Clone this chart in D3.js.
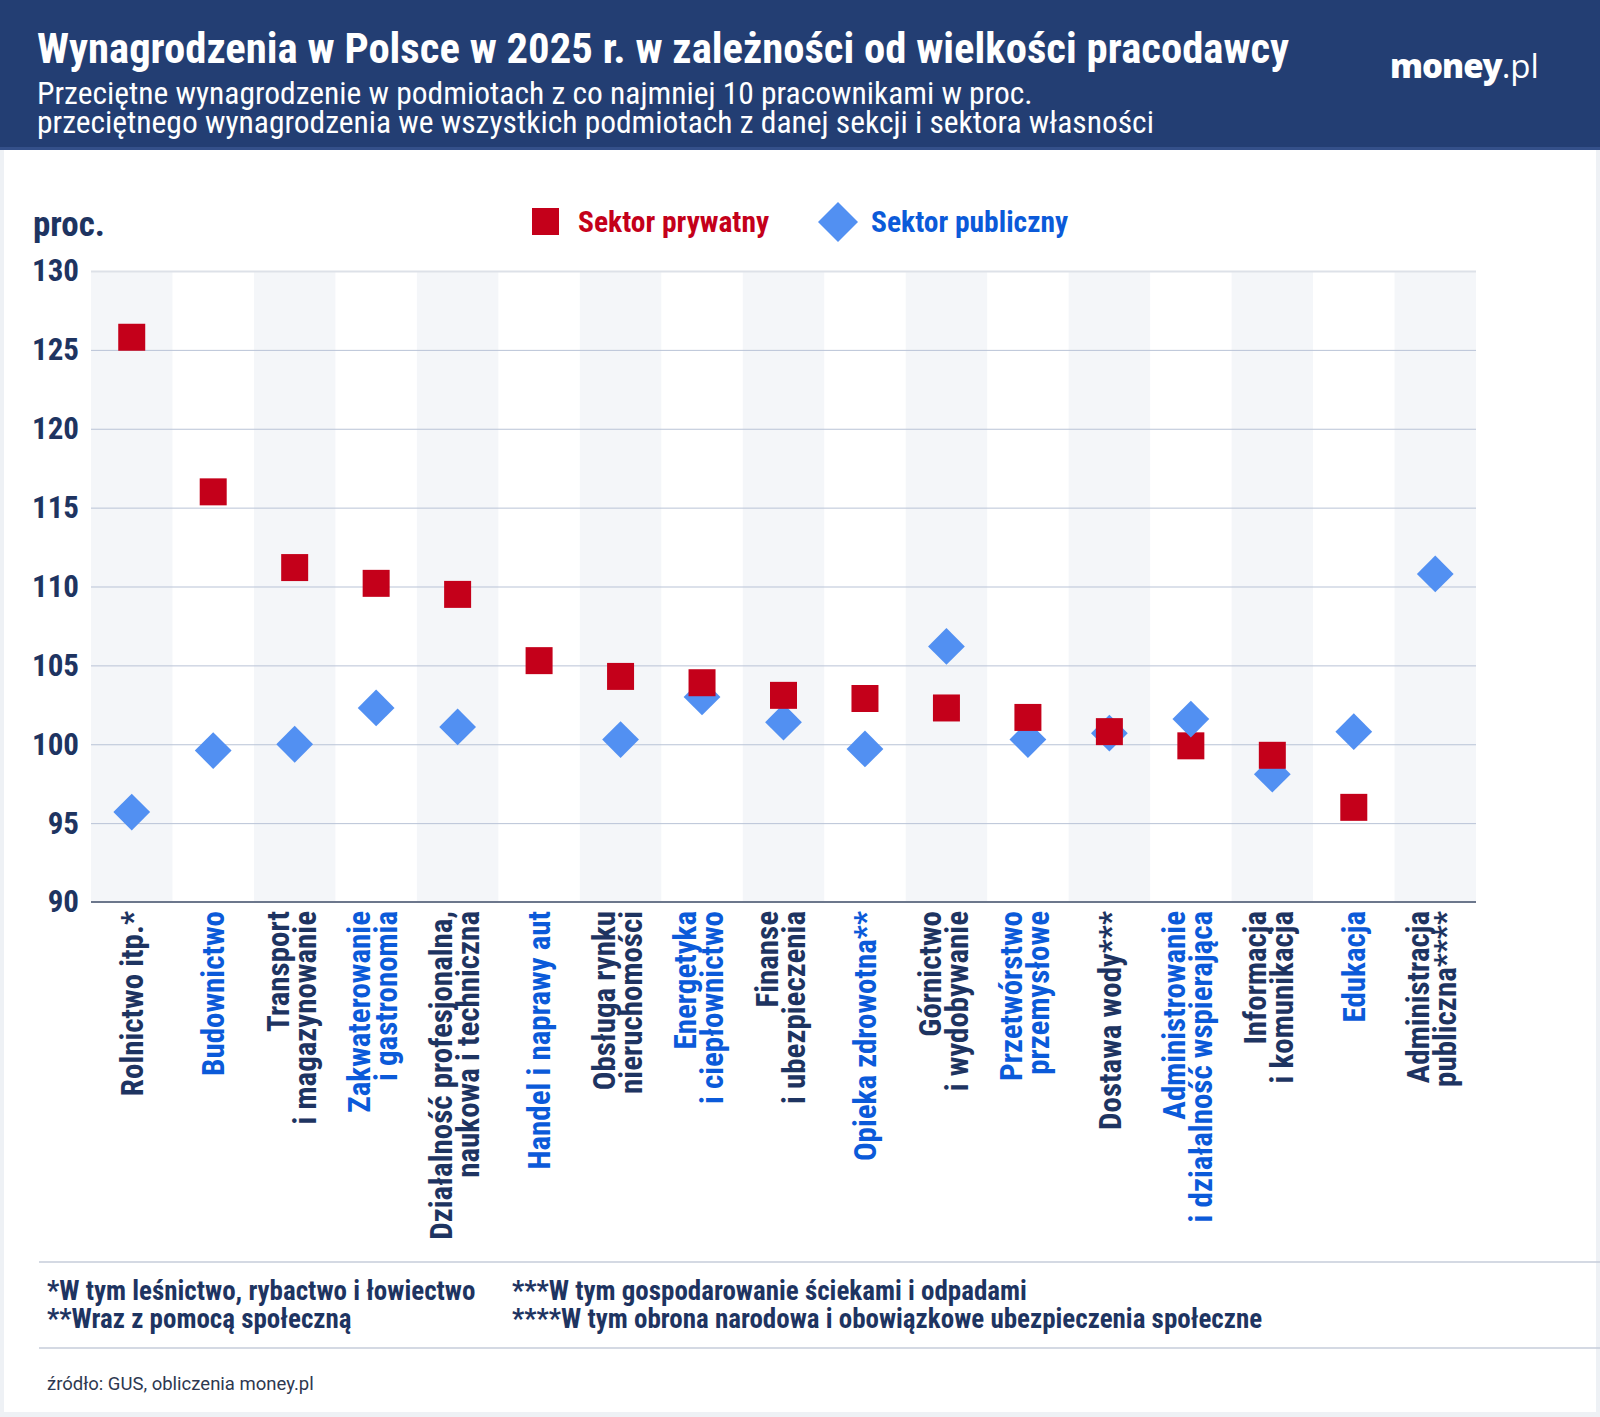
<!DOCTYPE html>
<html>
<head>
<meta charset="utf-8">
<script src="https://cdn.jsdelivr.net/npm/d3@7"></script>
<style>
  html, body { margin: 0; padding: 0; background: #eef1f5; }
  svg { display: block; }
  .cond { font-family: "Roboto Condensed", "Roboto", sans-serif; }
</style>
</head>
<body>
<div id="chart"></div>
<script>
// categories (line breaks as in the original labels)
var categories = [
  ['Rolnictwo itp.*'],
  ['Budownictwo'],
  ['Transport', 'i magazynowanie'],
  ['Zakwaterowanie', 'i gastronomia'],
  ['Działalność profesjonalna,', 'naukowa i techniczna'],
  ['Handel i naprawy aut'],
  ['Obsługa rynku', 'nieruchomości'],
  ['Energetyka', 'i ciepłownictwo'],
  ['Finanse', 'i ubezpieczenia'],
  ['Opieka zdrowotna**'],
  ['Górnictwo', 'i wydobywanie'],
  ['Przetwórstwo', 'przemysłowe'],
  ['Dostawa wody***'],
  ['Administrowanie', 'i działalność wspierająca'],
  ['Informacja', 'i komunikacja'],
  ['Edukacja'],
  ['Administracja', 'publiczna****']
];
var privateValues = [125.8, 116.0, 111.2, 110.2, 109.5, 105.3, 104.3, 103.9, 103.1, 102.9, 102.3, 101.7, 100.8, 99.9, 99.3, 96.0, null];
var publicValues = [95.7, 99.6, 100.0, 102.3, 101.1, null, 100.3, 103.0, 101.4, 99.7, 106.2, 100.3, 100.7, 101.6, 98.1, 100.8, 110.8];
var yTicks = [90, 95, 100, 105, 110, 115, 120, 125, 130];
var seriesNames = ['Sektor prywatny', 'Sektor publiczny'];
var titleText = 'Wynagrodzenia w Polsce w 2025 r. w zależności od wielkości pracodawcy';
var subtitleLines = [
  'Przeciętne wynagrodzenie w podmiotach z co najmniej 10 pracownikami w proc.',
  'przeciętnego wynagrodzenia we wszystkich podmiotach z danej sekcji i sektora własności'
];
var footnotesLeft = ['*W tym leśnictwo, rybactwo i łowiectwo', '**Wraz z pomocą społeczną'];
var footnotesRight = ['***W tym gospodarowanie ściekami i odpadami', '****W tym obrona narodowa i obowiązkowe ubezpieczenia społeczne'];
var sourceText = 'źródło: GUS, obliczenia money.pl';

var W = 1600, H = 1417;
var navy = '#1e3461', red = '#c4001a', blueText = '#0b5ad9', blueMark = '#5290f2';
var plot = { left: 91, right: 1476, top: 271, bottom: 902 };

var svg = d3.select('#chart').append('svg')
    .attr('width', W)
    .attr('height', H);

// page + card
svg.append('rect').attr('width', W).attr('height', H).attr('fill', '#eef1f5');
svg.append('rect').attr('x', 4).attr('y', 150).attr('width', W - 8).attr('height', H - 155).attr('fill', '#fff');

// header
svg.append('rect').attr('width', W).attr('height', 150).attr('fill', '#233e73');
svg.append('rect').attr('y', 147).attr('width', W).attr('height', 3).attr('fill', '#34508a');
svg.append('text')
    .attr('class', 'cond')
    .attr('x', 37).attr('y', 63)
    .attr('fill', '#fff')
    .style('font-size', '42.7px').style('font-weight', 700)
    .text(titleText);
svg.append('g').selectAll('text')
    .data(subtitleLines)
    .join('text')
    .attr('class', 'cond')
    .attr('x', 37)
    .attr('y', function (d, i) { return 104 + i * 29; })
    .attr('fill', '#fff')
    .style('font-size', '31.5px').style('font-weight', 400)
    .text(function (d) { return d; });
var logo = svg.append('text')
    .attr('x', 1390).attr('y', 78)
    .attr('fill', '#fff')
    .style('font-family', '"Open Sans", sans-serif')
    .style('font-size', '33px');
logo.append('tspan').style('font-weight', 800).attr('letter-spacing', '-1').text('money');
logo.append('tspan').style('font-weight', 400).text('.pl');

// scales
var x = d3.scaleBand()
    .domain(d3.range(categories.length))
    .range([plot.left, plot.right])
    .padding(0);
var y = d3.scaleLinear()
    .domain([yTicks[0], yTicks[yTicks.length - 1]])
    .range([plot.bottom, plot.top]);

// alternating column bands
svg.append('g').selectAll('rect')
    .data(d3.range(categories.length).filter(function (i) { return i % 2 === 0; }))
    .join('rect')
    .attr('x', function (i) { return x(i); })
    .attr('y', plot.top)
    .attr('width', x.bandwidth())
    .attr('height', plot.bottom - plot.top)
    .attr('fill', '#f4f6f9');

// y axis with gridlines
var yAxis = d3.axisLeft(y)
    .tickValues(yTicks)
    .tickSize(-(plot.right - plot.left))
    .tickPadding(12);
var yg = svg.append('g')
    .attr('transform', 'translate(' + plot.left + ',0)')
    .call(yAxis);
yg.select('.domain').remove();
yg.selectAll('.tick line')
    .attr('stroke', function (d) { return d === 130 ? '#dde1e8' : '#b9c3d6'; })
    .attr('stroke-width', function (d) { return d === 130 ? 2 : 1; });
yg.selectAll('.tick text')
    .attr('class', 'cond')
    .attr('fill', navy)
    .style('font-size', '31px')
    .style('font-weight', 700);

// baseline
svg.append('line')
    .attr('x1', plot.left).attr('x2', plot.right)
    .attr('y1', y(90)).attr('y2', y(90))
    .attr('stroke', '#6c778c').attr('stroke-width', 2);

// y unit label
svg.append('text')
    .attr('class', 'cond')
    .attr('x', 33).attr('y', 236)
    .attr('fill', navy)
    .style('font-size', '35px').style('font-weight', 700)
    .text('proc.');

// legend
var legend = svg.append('g').attr('class', 'legend');
legend.append('rect')
    .attr('x', 532).attr('y', 208).attr('width', 27).attr('height', 27)
    .attr('fill', red);
legend.append('text')
    .attr('class', 'cond')
    .attr('x', 578).attr('y', 232)
    .attr('fill', red)
    .style('font-size', '29.5px').style('font-weight', 700)
    .text(seriesNames[0]);
legend.append('path')
    .attr('d', d3.symbol(d3.symbolSquare, 800)())
    .attr('transform', 'translate(838,222) rotate(45)')
    .attr('fill', blueMark);
legend.append('text')
    .attr('class', 'cond')
    .attr('x', 871).attr('y', 232)
    .attr('fill', blueText)
    .style('font-size', '29.5px').style('font-weight', 700)
    .text(seriesNames[1]);

// markers: lower value drawn first so the higher marker sits on top
var marks = [];
categories.forEach(function (c, i) {
  if (privateValues[i] != null) marks.push({ i: i, v: privateValues[i], type: 'private' });
  if (publicValues[i] != null) marks.push({ i: i, v: publicValues[i], type: 'public' });
});
marks.sort(function (a, b) { return a.v - b.v; });
var half = x.bandwidth() / 2;
svg.append('g').selectAll('path')
    .data(marks)
    .join('path')
    .attr('d', function (d) {
      return d.type === 'private' ? d3.symbol(d3.symbolSquare, 27 * 27)() : d3.symbol(d3.symbolSquare, 26 * 26)();
    })
    .attr('transform', function (d) {
      return 'translate(' + (x(d.i) + half) + ',' + y(d.v) + ')' + (d.type === 'public' ? ' rotate(45)' : '');
    })
    .attr('fill', function (d) { return d.type === 'private' ? red : blueMark; });

// category labels (rotated)
var labels = svg.append('g').selectAll('g')
    .data(categories)
    .join('g')
    .attr('transform', function (d, i) { return 'translate(' + (x(i) + half) + ',911) rotate(-90)'; });
labels.append('text')
    .attr('class', 'cond')
    .attr('text-anchor', 'end')
    .attr('fill', function (d, i) { return i % 2 === 0 ? navy : blueText; })
    .style('font-size', '31px').style('font-weight', 700)
    .selectAll('tspan')
    .data(function (d) {
      return d.map(function (t, k) { return { t: t, off: d.length === 1 ? 0 : (k === 0 ? -17 : 10) }; });
    })
    .join('tspan')
    .attr('x', 0)
    .attr('y', function (d) { return d.off; })
    .attr('dy', '0.36em')
    .text(function (d) { return d.t; });

// footnotes
svg.append('line').attr('x1', 39).attr('x2', W).attr('y1', 1262).attr('y2', 1262)
    .attr('stroke', '#c6ccda').attr('stroke-width', 1.5);
svg.append('line').attr('x1', 39).attr('x2', W).attr('y1', 1348).attr('y2', 1348)
    .attr('stroke', '#c6ccda').attr('stroke-width', 1.5);
[[footnotesLeft, 47], [footnotesRight, 512]].forEach(function (col) {
  svg.append('g').selectAll('text')
      .data(col[0])
      .join('text')
      .attr('class', 'cond')
      .attr('x', col[1])
      .attr('y', function (d, i) { return 1300 + i * 28; })
      .attr('fill', navy)
      .style('font-size', '27px').style('font-weight', 700)
      .text(function (d) { return d; });
});
svg.append('text')
    .attr('x', 47).attr('y', 1390)
    .attr('fill', '#2e3850')
    .style('font-family', 'Roboto, sans-serif')
    .style('font-size', '18.5px')
    .text(sourceText);
</script>
</body>
</html>
